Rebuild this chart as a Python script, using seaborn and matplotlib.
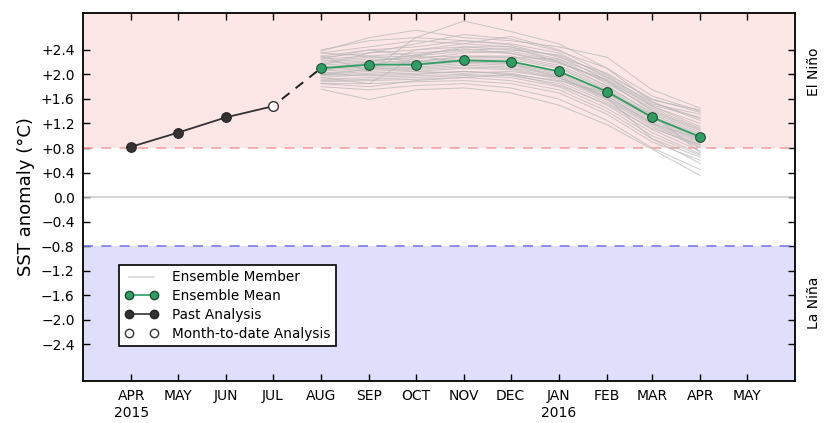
import pandas as pd
import numpy as np
import matplotlib
matplotlib.use("Agg")
import matplotlib.pyplot as plt
from matplotlib.lines import Line2D
import seaborn as sns

# meses do eixo x
tick_months = pd.date_range("2015-04-01", "2016-05-01", freq="MS")
tick_labels = ["APR\n2015", "MAY", "JUN", "JUL", "AUG", "SEP", "OCT", "NOV",
               "DEC", "JAN\n2016", "FEB", "MAR", "APR", "MAY"]

# analise passada (abr-jun) e analise do mes corrente (jul)
past_months = pd.date_range("2015-04-01", "2015-07-01", freq="MS")
past_values = [0.82, 1.05, 1.30, 1.48]

# previsao (ago 2015 - abr 2016)
fc_months = pd.date_range("2015-08-01", "2016-04-01", freq="MS")
mean_values = [2.10, 2.16, 2.16, 2.23, 2.21, 2.05, 1.72, 1.30, 0.98]

members = [
    [2.40, 2.55, 2.60, 2.87, 2.70, 2.50, 2.10, 1.55, 1.25],
    [2.38, 2.60, 2.72, 2.60, 2.55, 2.45, 2.28, 1.75, 1.45],
    [2.35, 2.45, 2.55, 2.50, 2.62, 2.40, 2.00, 1.60, 1.38],
    [2.30, 2.40, 2.45, 2.55, 2.50, 2.35, 1.95, 1.50, 1.30],
    [2.28, 2.35, 2.40, 2.45, 2.45, 2.30, 1.90, 1.48, 1.15],
    [2.25, 2.30, 2.35, 2.40, 2.42, 2.25, 1.85, 1.45, 1.12],
    [2.22, 2.28, 2.30, 2.38, 2.35, 2.20, 1.88, 1.42, 1.10],
    [2.20, 2.25, 2.25, 2.35, 2.38, 2.22, 1.80, 1.38, 1.05],
    [2.18, 2.22, 2.28, 2.30, 2.30, 2.15, 1.82, 1.35, 1.02],
    [2.15, 2.20, 2.22, 2.28, 2.28, 2.12, 1.78, 1.32, 1.00],
    [2.12, 2.18, 2.20, 2.25, 2.25, 2.10, 1.75, 1.30, 0.95],
    [2.10, 2.15, 2.18, 2.22, 2.22, 2.05, 1.70, 1.28, 0.92],
    [2.08, 2.12, 2.15, 2.20, 2.18, 2.02, 1.68, 1.25, 0.90],
    [2.05, 2.10, 2.12, 2.18, 2.15, 2.00, 1.65, 1.22, 0.88],
    [2.02, 2.08, 2.10, 2.15, 2.12, 1.98, 1.62, 1.20, 0.85],
    [2.00, 2.05, 2.08, 2.12, 2.10, 1.95, 1.60, 1.18, 0.82],
    [1.98, 2.02, 2.05, 2.10, 2.08, 1.92, 1.58, 1.15, 0.80],
    [1.95, 2.00, 2.02, 2.05, 2.02, 1.88, 1.55, 1.10, 0.75],
    [1.92, 1.95, 1.98, 2.00, 1.98, 1.85, 1.50, 1.05, 0.70],
    [1.90, 1.92, 1.95, 1.98, 1.95, 1.80, 1.45, 1.00, 0.68],
    [1.88, 1.90, 1.92, 1.95, 1.90, 1.75, 1.40, 0.95, 0.65],
    [1.85, 1.85, 1.88, 1.90, 1.85, 1.70, 1.35, 0.90, 0.60],
    [1.80, 1.75, 1.82, 1.85, 1.78, 1.60, 1.25, 0.80, 0.45],
    [1.76, 1.59, 1.75, 1.78, 1.70, 1.50, 1.18, 0.78, 0.35],
    [2.30, 2.05, 2.60, 2.55, 2.48, 2.28, 2.02, 1.58, 1.42],
    [1.95, 1.85, 2.30, 2.45, 2.40, 2.32, 1.98, 1.52, 1.35],
    [2.15, 2.35, 2.50, 2.65, 2.58, 2.38, 2.10, 1.65, 1.40],
    [2.05, 2.20, 2.32, 2.42, 2.34, 2.18, 1.92, 1.48, 1.20],
    [2.25, 2.40, 2.30, 2.20, 2.18, 1.95, 1.65, 1.20, 0.95],
    [2.00, 1.98, 2.00, 2.05, 2.00, 1.90, 1.70, 1.35, 0.72],
    [2.12, 2.12, 2.05, 2.02, 2.05, 1.95, 1.62, 0.95, 0.55],
    [1.85, 1.80, 1.90, 1.95, 2.00, 1.82, 1.52, 1.12, 0.85],
    [2.35, 2.30, 2.20, 2.30, 2.28, 2.25, 1.95, 1.55, 1.28],
    [2.00, 2.08, 2.40, 2.50, 2.45, 2.20, 1.90, 1.40, 1.08],
]

y_ticks = [-2.4, -2.0, -1.6, -1.2, -0.8, -0.4, 0.0, 0.4, 0.8, 1.2, 1.6, 2.0, 2.4]
y_tick_labels = ["\u22122.4", "\u22122.0", "\u22121.6", "\u22121.2", "\u22120.8", "\u22120.4",
                 "0.0", "+0.4", "+0.8", "+1.2", "+1.6", "+2.0", "+2.4"]

nino_threshold = 0.8

sns.set_style("ticks")
plt.rcParams["font.family"] = ["DejaVu Sans"]
plt.rcParams["xtick.direction"] = "in"
plt.rcParams["ytick.direction"] = "in"
plt.rcParams["text.color"] = "black"
plt.rcParams["axes.labelcolor"] = "black"
plt.rcParams["xtick.color"] = "black"
plt.rcParams["ytick.color"] = "black"

green = "#2f9e62"
dark = "#333333"

#dataframes
df_members = pd.DataFrame(
    [(i, d, v) for i, row in enumerate(members) for d, v in zip(fc_months, row)],
    columns=["member", "date", "value"])
df_mean = pd.DataFrame({"date": fc_months, "value": mean_values})
df_past = pd.DataFrame({"date": past_months[:-1], "value": past_values[:-1]})
df_link = pd.DataFrame({"date": [past_months[-1], fc_months[0]],
                        "value": [past_values[-1], mean_values[0]]})

fig = plt.figure(figsize=(8.24, 4.23), dpi=100)
ax = fig.add_axes([0.1007, 0.0993, 0.8643, 0.8697])

# regioes el nino / la nina
ax.axhspan(nino_threshold, 3, color="#fde6e6", lw=0, zorder=0)
ax.axhspan(-3, -nino_threshold, color="#dfdffb", lw=0, zorder=0)
ax.axhline(nino_threshold, color="#f4a3a3", ls=(0, (6, 5)), lw=1.2, zorder=1)
ax.axhline(-nino_threshold, color="#7b7be6", ls=(0, (6, 5)), lw=1.2, zorder=1)
ax.axhline(0, color="#cccccc", lw=1.1, zorder=1)

# membros do ensemble
sns.lineplot(data=df_members, x="date", y="value", units="member", estimator=None,
             color="#b8b8b8", lw=0.7, alpha=0.75, ax=ax, legend=False, zorder=2)

# ligacao jul -> ago
sns.lineplot(data=df_link, x="date", y="value", color="#222222", lw=1.4,
             ls=(3, (5, 4)), ax=ax, legend=False, zorder=3)

# analise passada
sns.lineplot(data=df_past, x="date", y="value", color=dark, lw=1.3, marker="o",
             markersize=7, markerfacecolor=dark, markeredgecolor="#222222",
             ax=ax, legend=False, zorder=4)
ax.plot([past_months[-2], past_months[-1]], past_values[-2:], color=dark, lw=1.3, zorder=4)
ax.plot([past_months[-1]], [past_values[-1]], "o", markersize=7, markerfacecolor="white",
        markeredgecolor="#333333", zorder=5)

# media do ensemble
sns.lineplot(data=df_mean, x="date", y="value", color=green, lw=1.3, marker="o",
             markersize=7, markerfacecolor=green, markeredgecolor="#1d4d2f",
             ax=ax, legend=False, zorder=5)

ax.set_xlim(pd.Timestamp("2015-03-01"), pd.Timestamp("2016-06-01"))
ax.set_ylim(-3, 3)
ax.set_xticks(tick_months)
ax.set_xticklabels(tick_labels, fontsize=10)
ax.set_yticks(y_ticks)
ax.set_yticklabels(y_tick_labels, fontsize=10)
ax.tick_params(top=True, right=True, length=5, width=1, color="black", pad=6)
ax.set_xlabel("")
ax.set_ylabel("SST anomaly (\u00b0C)", fontsize=13)
for s in ax.spines.values():
    s.set_linewidth(1.3)
    s.set_color("black")

trans = ax.get_yaxis_transform()
ax.text(1.026, 2.04, "El Ni\u00f1o", rotation=90, ha="center", va="center",
        fontsize=10, transform=trans)
ax.text(1.026, -1.72, "La Ni\u00f1a", rotation=90, ha="center", va="center",
        fontsize=10, transform=trans)

handles = [
    Line2D([], [], color="#dddddd", lw=1.5),
    Line2D([], [], color=green, lw=1.2, marker="o", markersize=6,
           markerfacecolor=green, markeredgecolor="#1d4d2f"),
    Line2D([], [], color=dark, lw=1.2, marker="o", markersize=6,
           markerfacecolor=dark, markeredgecolor="#222222"),
    Line2D([], [], ls="none", marker="o", markersize=6,
           markerfacecolor="white", markeredgecolor="#333333"),
]
labels = ["Ensemble Member", "Ensemble Mean", "Past Analysis", "Month-to-date Analysis"]
leg = ax.legend(handles, labels, loc="lower left", bbox_to_anchor=(0.0506, 0.095),
                borderaxespad=0, numpoints=2, fontsize=9.8, frameon=True, fancybox=False,
                framealpha=1, edgecolor="black", borderpad=0.4,
                handlelength=2.5, handletextpad=1.0, labelspacing=0.35)
leg.get_frame().set_linewidth(1.2)
leg.set_zorder(10)

fig.savefig("out.png", dpi=100)
